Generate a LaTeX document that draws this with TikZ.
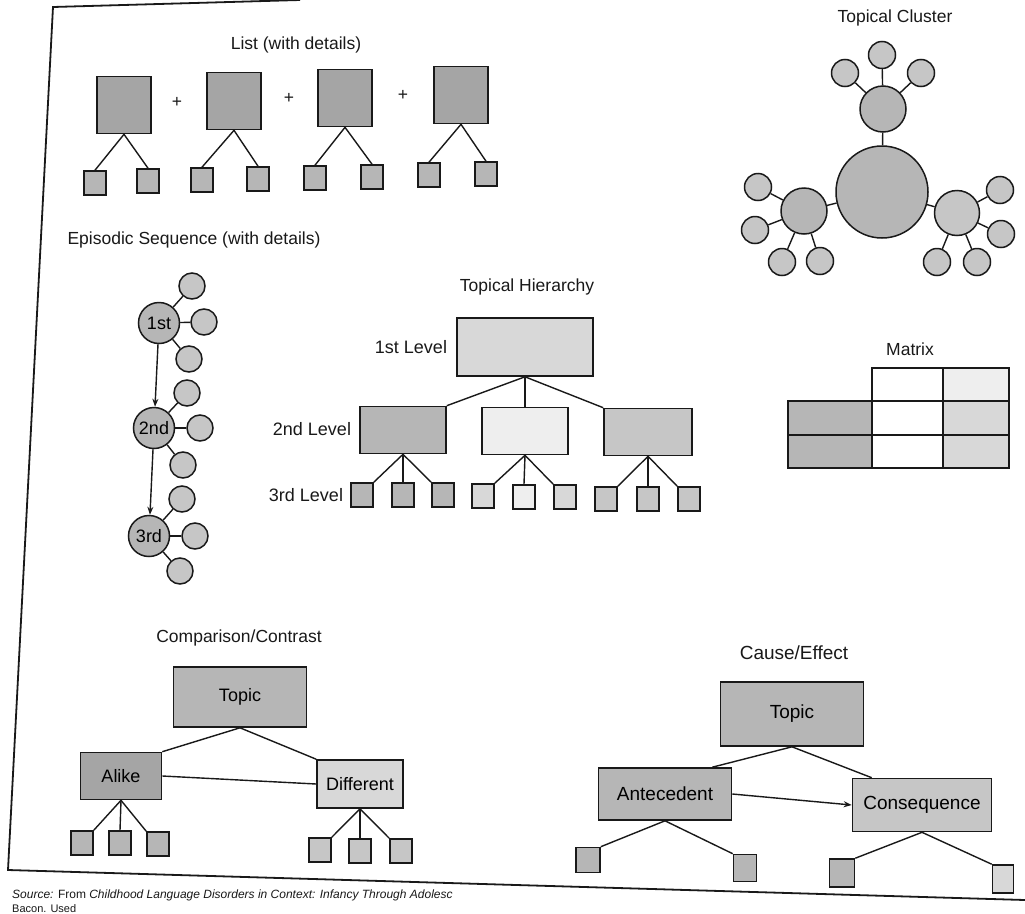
\documentclass[tikz,border=0pt]{standalone}
\usepackage{fontspec}
\setmainfont{Liberation Sans}
\usetikzlibrary{positioning,calc,arrows.meta}
\definecolor{inkclr}{RGB}{25,25,25}
\definecolor{boxdark}{RGB}{165,165,165}
\definecolor{boxmid}{RGB}{182,182,182}
\definecolor{boxlight}{RGB}{198,198,198}
\definecolor{boxpale}{RGB}{216,216,216}
\definecolor{boxwhite}{RGB}{238,238,238}

\begin{document}
\begin{tikzpicture}[x=1pt, y=-1pt,
    heading/.style={font=\fontsize{17.5}{20}\selectfont, text=inkclr, inner sep=0pt},
    lvllabel/.style={font=\fontsize{18}{20}\selectfont, text=inkclr, inner sep=0pt},
    box/.style={draw=inkclr, line width=1.6pt, inner sep=0pt, font=\fontsize{18}{20}\selectfont},
    bigsq/.style={box, fill=boxdark, minimum width=54pt, minimum height=57pt},
    detail/.style={box, fill=boxmid, minimum width=22pt, minimum height=24pt},
    bubble/.style={circle, draw=inkclr, line width=1.5pt, inner sep=0pt},
    leaf/.style={bubble, fill=boxlight, minimum size=27pt},
    link/.style={draw=inkclr, line width=1.4pt}]
  \useasboundingbox[fill=white] (0,0) rectangle (1025,913);
  % page frame of the scan
  \draw[inkclr, line width=1.8pt] (300,0) -- (53,7) -- (8,870) -- (1025,900);
  \node[anchor=base west, inner sep=0pt, font=\fontsize{12}{14}\selectfont, text=inkclr]
    (source) at (12,898) {\textit{Source:} From \textit{Childhood Language Disorders in Context: Infancy Through Adolesc}};
  \node[anchor=base west, inner sep=0pt, font=\fontsize{11}{13}\selectfont, text=inkclr]
    (sourcenext) at (12,912) {Bacon. Used};

  % List (with details)
  \node[heading] (listtitle) at (296,45) {List (with details)};
  \node[bigsq] (itemA) at (124,105) {};
  \node[bigsq] (itemB) at (234,101) {};
  \node[bigsq] (itemC) at (345,98) {};
  \node[bigsq] (itemD) at (461,95) {};
  \node[heading] (plusA) at (177,102) {+};
  \node[heading] (plusB) at (289,98) {+};
  \node[heading] (plusC) at (403,95) {+};
  \node[detail] (itemAa) at (95,183) {};
  \node[detail] (itemAb) at (148,181) {};
  \node[detail] (itemBa) at (202,180) {};
  \node[detail] (itemBb) at (258,179) {};
  \node[detail] (itemCa) at (315,178) {};
  \node[detail] (itemCb) at (372,177) {};
  \node[detail] (itemDa) at (429,175) {};
  \node[detail] (itemDb) at (486,174) {};
  \draw[link] (itemA.south) -- (itemAa.north);
  \draw[link] (itemA.south) -- (itemAb.north);
  \draw[link] (itemB.south) -- (itemBa.north);
  \draw[link] (itemB.south) -- (itemBb.north);
  \draw[link] (itemC.south) -- (itemCa.north);
  \draw[link] (itemC.south) -- (itemCb.north);
  \draw[link] (itemD.south) -- (itemDa.north);
  \draw[link] (itemD.south) -- (itemDb.north);

  % Topical Cluster
  \node[heading] (clustertitle) at (895,18) {Topical Cluster};
  \node[bubble, fill=boxmid, minimum size=92pt] (core) at (882,192) {};
  \node[bubble, fill=boxmid, minimum size=46pt] (hubN) at (883,109) {};
  \node[bubble, fill=boxmid, minimum size=46pt] (hubW) at (804,211) {};
  \node[bubble, fill=boxlight, minimum size=45pt] (hubE) at (957,213) {};
  \node[leaf] (hubNa) at (845,73) {};
  \node[leaf] (hubNb) at (882,55) {};
  \node[leaf] (hubNc) at (921,73) {};
  \node[leaf] (hubWa) at (758,187) {};
  \node[leaf] (hubWb) at (755,230) {};
  \node[leaf] (hubWc) at (782,262) {};
  \node[leaf] (hubWd) at (820,261) {};
  \node[leaf] (hubEa) at (1000,190) {};
  \node[leaf] (hubEb) at (1001,234) {};
  \node[leaf] (hubEc) at (937,262) {};
  \node[leaf] (hubEd) at (977,262) {};
  \draw[link] (core) -- (hubN);
  \draw[link] (core) -- (hubW);
  \draw[link] (core) -- (hubE);
  \draw[link] (hubN) -- (hubNa);
  \draw[link] (hubN) -- (hubNb);
  \draw[link] (hubN) -- (hubNc);
  \draw[link] (hubW) -- (hubWa);
  \draw[link] (hubW) -- (hubWb);
  \draw[link] (hubW) -- (hubWc);
  \draw[link] (hubW) -- (hubWd);
  \draw[link] (hubE) -- (hubEa);
  \draw[link] (hubE) -- (hubEb);
  \draw[link] (hubE) -- (hubEc);
  \draw[link] (hubE) -- (hubEd);

  % Episodic Sequence (with details)
  \node[heading] (episodetitle) at (194,240) {Episodic Sequence (with details)};
  \node[bubble, fill=boxmid, minimum size=41pt, font=\fontsize{18}{20}\selectfont] (epOne) at (159,323) {1st};
  \node[bubble, fill=boxmid, minimum size=41pt, font=\fontsize{18}{20}\selectfont] (epTwo) at (154,428) {2nd};
  \node[bubble, fill=boxmid, minimum size=41pt, font=\fontsize{18}{20}\selectfont] (epThree) at (149,536) {3rd};
  \node[leaf, minimum size=26pt] (epOnea) at (192,286) {};
  \node[leaf, minimum size=26pt] (epOneb) at (204,322) {};
  \node[leaf, minimum size=26pt] (epOnec) at (189,359) {};
  \node[leaf, minimum size=26pt] (epTwoa) at (187,393) {};
  \node[leaf, minimum size=26pt] (epTwob) at (200,428) {};
  \node[leaf, minimum size=26pt] (epTwoc) at (183,465) {};
  \node[leaf, minimum size=26pt] (epThreea) at (182,499) {};
  \node[leaf, minimum size=26pt] (epThreeb) at (195,536) {};
  \node[leaf, minimum size=26pt] (epThreec) at (180,571) {};
  \draw[link, -{Stealth[length=8pt,width=6pt]}] (epOne) -- (epTwo);
  \draw[link, -{Stealth[length=8pt,width=6pt]}] (epTwo) -- (epThree);
  \draw[link] (epOne) -- (epOnea);
  \draw[link] (epOne) -- (epOneb);
  \draw[link] (epOne) -- (epOnec);
  \draw[link] (epTwo) -- (epTwoa);
  \draw[link] (epTwo) -- (epTwob);
  \draw[link] (epTwo) -- (epTwoc);
  \draw[link] (epThree) -- (epThreea);
  \draw[link] (epThree) -- (epThreeb);
  \draw[link] (epThree) -- (epThreec);

  % Topical Hierarchy
  \node[heading] (hiertitle) at (527,287) {Topical Hierarchy};
  \node[box, fill=boxpale, minimum width=136pt, minimum height=58pt] (lvlOne) at (525,347) {};
  \node[box, fill=boxmid, minimum width=86pt, minimum height=47pt] (subL) at (403,430) {};
  \node[box, fill=boxwhite, minimum width=86pt, minimum height=47pt] (subM) at (525,431) {};
  \node[box, fill=boxlight, minimum width=88pt, minimum height=47pt] (subR) at (648,432) {};
  \node[lvllabel] (lvlOnetxt) at (411,347) {1st Level};
  \node[lvllabel] (lvlTwotxt) at (312,429) {2nd Level};
  \node[lvllabel] (lvlThreetxt) at (306,495) {3rd Level};
  \node[detail] (subLa) at (362,495) {};
  \node[detail] (subLb) at (403,495) {};
  \node[detail] (subLc) at (443,495) {};
  \node[detail, fill=boxpale] (subMa) at (483,496) {};
  \node[detail, fill=boxwhite] (subMb) at (524,497) {};
  \node[detail, fill=boxpale] (subMc) at (565,497) {};
  \node[detail, fill=boxlight] (subRa) at (606,499) {};
  \node[detail, fill=boxlight] (subRb) at (648,499) {};
  \node[detail, fill=boxlight] (subRc) at (689,499) {};
  \draw[link] (lvlOne.south) -- (subL.north east);
  \draw[link] (lvlOne.south) -- (subM.north);
  \draw[link] (lvlOne.south) -- (subR.north west);
  \draw[link] (subL.south) -- (subLa.north east);
  \draw[link] (subL.south) -- (subLb.north);
  \draw[link] (subL.south) -- (subLc.north west);
  \draw[link] (subM.south) -- (subMa.north east);
  \draw[link] (subM.south) -- (subMb.north);
  \draw[link] (subM.south) -- (subMc.north west);
  \draw[link] (subR.south) -- (subRa.north east);
  \draw[link] (subR.south) -- (subRb.north);
  \draw[link] (subR.south) -- (subRc.north west);

  % Matrix
  \node[heading] (matrixtitle) at (910,349) {Matrix};
  \filldraw[fill=white, draw=inkclr, line width=1.5pt] (872,368) rectangle (943,401);
  \filldraw[fill=boxwhite, draw=inkclr, line width=1.5pt] (943,368) rectangle (1009,401);
  \filldraw[fill=boxmid, draw=inkclr, line width=1.5pt] (788,401) rectangle (872,435);
  \filldraw[fill=white, draw=inkclr, line width=1.5pt] (872,401) rectangle (943,435);
  \filldraw[fill=boxpale, draw=inkclr, line width=1.5pt] (943,401) rectangle (1009,435);
  \filldraw[fill=boxmid, draw=inkclr, line width=1.5pt] (788,435) rectangle (872,468);
  \filldraw[fill=white, draw=inkclr, line width=1.5pt] (872,435) rectangle (943,468);
  \filldraw[fill=boxpale, draw=inkclr, line width=1.5pt] (943,435) rectangle (1009,468);

  % Comparison/Contrast
  \node[heading] (comptitle) at (239,638) {Comparison/Contrast};
  \node[box, fill=boxmid, minimum width=133pt, minimum height=60pt] (cmpTopic) at (240,697) {Topic};
  \node[box, fill=boxdark, minimum width=81pt, minimum height=47pt] (alike) at (121,776) {Alike};
  \node[box, fill=boxpale, minimum width=86pt, minimum height=48pt] (different) at (360,784) {Different};
  \node[detail] (alikeA) at (82,843) {};
  \node[detail] (alikeB) at (120,843) {};
  \node[detail] (alikeC) at (158,844) {};
  \node[detail, fill=boxlight] (diffA) at (320,850) {};
  \node[detail, fill=boxlight] (diffB) at (360,851) {};
  \node[detail, fill=boxlight] (diffC) at (401,851) {};
  \draw[link] (cmpTopic.south) -- (alike.north east);
  \draw[link] (cmpTopic.south) -- (different.north west);
  \draw[link] (alike.east) -- (different.west);
  \draw[link] (alike.south) -- (alikeA.north east);
  \draw[link] (alike.south) -- (alikeB.north);
  \draw[link] (alike.south) -- (alikeC.north west);
  \draw[link] (different.south) -- (diffA.north east);
  \draw[link] (different.south) -- (diffB.north);
  \draw[link] (different.south) -- (diffC.north west);

  % Cause/Effect
  \node[heading, font=\fontsize{19}{22}\selectfont] (causetitle) at (794,653) {Cause/Effect};
  \node[box, fill=boxmid, minimum width=143pt, minimum height=64pt, font=\fontsize{19}{22}\selectfont] (ceTopic) at (792,714) {Topic};
  \node[box, fill=boxmid, minimum width=133pt, minimum height=52pt, font=\fontsize{19}{22}\selectfont] (antecedent) at (665,794) {Antecedent};
  \node[box, fill=boxlight, minimum width=139pt, minimum height=53pt, font=\fontsize{19}{22}\selectfont] (consequence) at (922,805) {Consequence};
  \node[detail, minimum width=24pt, minimum height=25pt] (anteA) at (588,860) {};
  \node[detail, minimum width=23pt, minimum height=27pt] (anteB) at (745,868) {};
  \node[detail, minimum width=25pt, minimum height=28pt] (consA) at (842,873) {};
  \node[detail, fill=boxpale, minimum width=21pt, minimum height=28pt] (consB) at (1003,879) {};
  \draw[link] (ceTopic.south) -- ([xshift=-20pt]antecedent.north east);
  \draw[link] (ceTopic.south) -- ([xshift=20pt]consequence.north west);
  \draw[link, -{Stealth[length=8pt,width=6pt]}] (antecedent.east) -- (consequence.west);
  \draw[link] (antecedent.south) -- (anteA.north east);
  \draw[link] (antecedent.south) -- (anteB.north west);
  \draw[link] (consequence.south) -- (consA.north east);
  \draw[link] (consequence.south) -- (consB.north west);
\end{tikzpicture}
\end{document}
